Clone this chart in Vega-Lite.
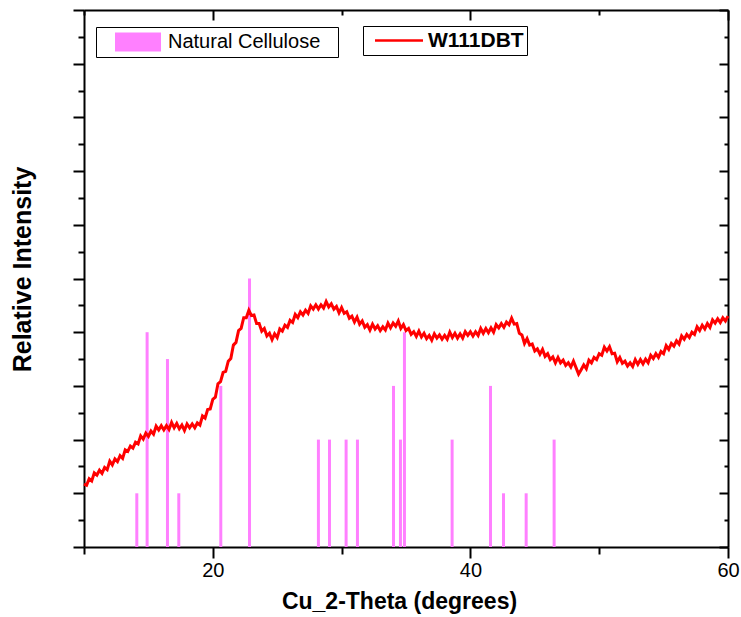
{
  "$schema": "https://vega.github.io/schema/vega-lite/v6.json",
  "width": 644,
  "height": 537,
  "autosize": "none",
  "padding": {"left": 84, "top": 10, "right": 13, "bottom": 70},
  "background": "white",
  "config": {
    "view": {"stroke": null},
    "font": "Liberation Sans",
    "axis": {"domainColor": "black", "domainWidth": 2, "tickColor": "black", "tickWidth": 2, "labelColor": "black", "titleColor": "black", "grid": false, "labelFont": "Liberation Sans", "titleFont": "Liberation Sans"}
  },
  "datasets": {
    "sticks": [
      {"theta": 14.1, "intensity": 1},
      {"theta": 14.9, "intensity": 4},
      {"theta": 16.48, "intensity": 3.5},
      {"theta": 17.36, "intensity": 1},
      {"theta": 20.62, "intensity": 3},
      {"theta": 22.85, "intensity": 5},
      {"theta": 28.2, "intensity": 2},
      {"theta": 29.06, "intensity": 2},
      {"theta": 30.35, "intensity": 2},
      {"theta": 31.23, "intensity": 2},
      {"theta": 34.03, "intensity": 3},
      {"theta": 34.57, "intensity": 2},
      {"theta": 34.88, "intensity": 4},
      {"theta": 38.58, "intensity": 2},
      {"theta": 41.56, "intensity": 3},
      {"theta": 42.57, "intensity": 1},
      {"theta": 44.33, "intensity": 1},
      {"theta": 46.5, "intensity": 2}
    ],
    "pattern": [
      {"theta": 10.0, "intensity": 1.17}, {"theta": 10.2, "intensity": 1.15}, {"theta": 10.4, "intensity": 1.27}, {"theta": 10.6, "intensity": 1.23}, {"theta": 10.8, "intensity": 1.38},
      {"theta": 11.0, "intensity": 1.34}, {"theta": 11.2, "intensity": 1.43}, {"theta": 11.4, "intensity": 1.37}, {"theta": 11.6, "intensity": 1.48}, {"theta": 11.8, "intensity": 1.44},
      {"theta": 12.0, "intensity": 1.6}, {"theta": 12.2, "intensity": 1.53}, {"theta": 12.4, "intensity": 1.64}, {"theta": 12.6, "intensity": 1.59}, {"theta": 12.8, "intensity": 1.7},
      {"theta": 13.0, "intensity": 1.65}, {"theta": 13.2, "intensity": 1.81}, {"theta": 13.4, "intensity": 1.78}, {"theta": 13.6, "intensity": 1.88}, {"theta": 13.8, "intensity": 1.84},
      {"theta": 14.0, "intensity": 1.95}, {"theta": 14.2, "intensity": 1.92}, {"theta": 14.4, "intensity": 2.07}, {"theta": 14.6, "intensity": 2.01}, {"theta": 14.8, "intensity": 2.12},
      {"theta": 15.0, "intensity": 2.06}, {"theta": 15.2, "intensity": 2.16}, {"theta": 15.4, "intensity": 2.1}, {"theta": 15.6, "intensity": 2.25}, {"theta": 15.8, "intensity": 2.18},
      {"theta": 16.0, "intensity": 2.26}, {"theta": 16.2, "intensity": 2.18}, {"theta": 16.4, "intensity": 2.26}, {"theta": 16.6, "intensity": 2.19}, {"theta": 16.8, "intensity": 2.32},
      {"theta": 17.0, "intensity": 2.22}, {"theta": 17.2, "intensity": 2.3}, {"theta": 17.4, "intensity": 2.2}, {"theta": 17.6, "intensity": 2.27}, {"theta": 17.8, "intensity": 2.17},
      {"theta": 18.0, "intensity": 2.29}, {"theta": 18.2, "intensity": 2.22}, {"theta": 18.4, "intensity": 2.29}, {"theta": 18.6, "intensity": 2.22}, {"theta": 18.8, "intensity": 2.31},
      {"theta": 19.0, "intensity": 2.27}, {"theta": 19.2, "intensity": 2.44}, {"theta": 19.4, "intensity": 2.4}, {"theta": 19.6, "intensity": 2.56}, {"theta": 19.8, "intensity": 2.57},
      {"theta": 20.0, "intensity": 2.75}, {"theta": 20.2, "intensity": 2.79}, {"theta": 20.4, "intensity": 3.04}, {"theta": 20.6, "intensity": 3.08}, {"theta": 20.8, "intensity": 3.25},
      {"theta": 21.0, "intensity": 3.27}, {"theta": 21.2, "intensity": 3.46}, {"theta": 21.4, "intensity": 3.51}, {"theta": 21.6, "intensity": 3.76}, {"theta": 21.8, "intensity": 3.81},
      {"theta": 22.0, "intensity": 4.03}, {"theta": 22.2, "intensity": 4.07}, {"theta": 22.4, "intensity": 4.27}, {"theta": 22.6, "intensity": 4.27}, {"theta": 22.8, "intensity": 4.41},
      {"theta": 23.0, "intensity": 4.31}, {"theta": 23.2, "intensity": 4.32}, {"theta": 23.4, "intensity": 4.16}, {"theta": 23.6, "intensity": 4.16}, {"theta": 23.8, "intensity": 4.02},
      {"theta": 24.0, "intensity": 4.07}, {"theta": 24.2, "intensity": 3.93}, {"theta": 24.4, "intensity": 3.98}, {"theta": 24.6, "intensity": 3.86}, {"theta": 24.8, "intensity": 3.97},
      {"theta": 25.0, "intensity": 3.9}, {"theta": 25.2, "intensity": 4.06}, {"theta": 25.4, "intensity": 4.02}, {"theta": 25.6, "intensity": 4.13}, {"theta": 25.8, "intensity": 4.09},
      {"theta": 26.0, "intensity": 4.22}, {"theta": 26.2, "intensity": 4.18}, {"theta": 26.4, "intensity": 4.33}, {"theta": 26.6, "intensity": 4.27}, {"theta": 26.8, "intensity": 4.38},
      {"theta": 27.0, "intensity": 4.32}, {"theta": 27.2, "intensity": 4.41}, {"theta": 27.4, "intensity": 4.35}, {"theta": 27.6, "intensity": 4.49}, {"theta": 27.8, "intensity": 4.43},
      {"theta": 28.0, "intensity": 4.51}, {"theta": 28.2, "intensity": 4.43}, {"theta": 28.4, "intensity": 4.51}, {"theta": 28.6, "intensity": 4.45}, {"theta": 28.8, "intensity": 4.57},
      {"theta": 29.0, "intensity": 4.47}, {"theta": 29.2, "intensity": 4.53}, {"theta": 29.4, "intensity": 4.43}, {"theta": 29.6, "intensity": 4.48}, {"theta": 29.8, "intensity": 4.36},
      {"theta": 30.0, "intensity": 4.46}, {"theta": 30.2, "intensity": 4.35}, {"theta": 30.4, "intensity": 4.38}, {"theta": 30.6, "intensity": 4.26}, {"theta": 30.8, "intensity": 4.3},
      {"theta": 31.0, "intensity": 4.19}, {"theta": 31.2, "intensity": 4.28}, {"theta": 31.4, "intensity": 4.15}, {"theta": 31.6, "intensity": 4.21}, {"theta": 31.8, "intensity": 4.09},
      {"theta": 32.0, "intensity": 4.14}, {"theta": 32.2, "intensity": 4.04}, {"theta": 32.4, "intensity": 4.15}, {"theta": 32.6, "intensity": 4.06}, {"theta": 32.8, "intensity": 4.12},
      {"theta": 33.0, "intensity": 4.03}, {"theta": 33.2, "intensity": 4.1}, {"theta": 33.4, "intensity": 4.04}, {"theta": 33.6, "intensity": 4.17}, {"theta": 33.8, "intensity": 4.08},
      {"theta": 34.0, "intensity": 4.17}, {"theta": 34.2, "intensity": 4.11}, {"theta": 34.4, "intensity": 4.21}, {"theta": 34.6, "intensity": 4.07}, {"theta": 34.8, "intensity": 4.14},
      {"theta": 35.0, "intensity": 4.03}, {"theta": 35.2, "intensity": 4.07}, {"theta": 35.4, "intensity": 3.96}, {"theta": 35.6, "intensity": 4.01}, {"theta": 35.8, "intensity": 3.92},
      {"theta": 36.0, "intensity": 4.02}, {"theta": 36.2, "intensity": 3.91}, {"theta": 36.4, "intensity": 3.98}, {"theta": 36.6, "intensity": 3.88}, {"theta": 36.8, "intensity": 3.94},
      {"theta": 37.0, "intensity": 3.85}, {"theta": 37.2, "intensity": 3.97}, {"theta": 37.4, "intensity": 3.89}, {"theta": 37.6, "intensity": 3.95}, {"theta": 37.8, "intensity": 3.87},
      {"theta": 38.0, "intensity": 3.94}, {"theta": 38.2, "intensity": 3.87}, {"theta": 38.4, "intensity": 4.0}, {"theta": 38.6, "intensity": 3.9}, {"theta": 38.8, "intensity": 3.98},
      {"theta": 39.0, "intensity": 3.89}, {"theta": 39.2, "intensity": 3.97}, {"theta": 39.4, "intensity": 3.89}, {"theta": 39.6, "intensity": 4.01}, {"theta": 39.8, "intensity": 3.94},
      {"theta": 40.0, "intensity": 4.01}, {"theta": 40.2, "intensity": 3.93}, {"theta": 40.4, "intensity": 4.01}, {"theta": 40.6, "intensity": 3.94}, {"theta": 40.8, "intensity": 4.07},
      {"theta": 41.0, "intensity": 3.98}, {"theta": 41.2, "intensity": 4.07}, {"theta": 41.4, "intensity": 3.99}, {"theta": 41.6, "intensity": 4.08}, {"theta": 41.8, "intensity": 4.0},
      {"theta": 42.0, "intensity": 4.14}, {"theta": 42.2, "intensity": 4.08}, {"theta": 42.4, "intensity": 4.16}, {"theta": 42.6, "intensity": 4.09}, {"theta": 42.8, "intensity": 4.19},
      {"theta": 43.0, "intensity": 4.14}, {"theta": 43.2, "intensity": 4.26}, {"theta": 43.4, "intensity": 4.15}, {"theta": 43.6, "intensity": 4.16}, {"theta": 43.8, "intensity": 3.98},
      {"theta": 44.0, "intensity": 3.95}, {"theta": 44.2, "intensity": 3.79}, {"theta": 44.4, "intensity": 3.88}, {"theta": 44.6, "intensity": 3.76}, {"theta": 44.8, "intensity": 3.78},
      {"theta": 45.0, "intensity": 3.65}, {"theta": 45.2, "intensity": 3.69}, {"theta": 45.4, "intensity": 3.59}, {"theta": 45.6, "intensity": 3.68}, {"theta": 45.8, "intensity": 3.55},
      {"theta": 46.0, "intensity": 3.6}, {"theta": 46.2, "intensity": 3.49}, {"theta": 46.4, "intensity": 3.54}, {"theta": 46.6, "intensity": 3.43}, {"theta": 46.8, "intensity": 3.53},
      {"theta": 47.0, "intensity": 3.43}, {"theta": 47.2, "intensity": 3.48}, {"theta": 47.4, "intensity": 3.38}, {"theta": 47.6, "intensity": 3.43}, {"theta": 47.8, "intensity": 3.35},
      {"theta": 48.0, "intensity": 3.46}, {"theta": 48.2, "intensity": 3.34}, {"theta": 48.4, "intensity": 3.22}, {"theta": 48.6, "intensity": 3.3}, {"theta": 48.8, "intensity": 3.39},
      {"theta": 49.0, "intensity": 3.32}, {"theta": 49.2, "intensity": 3.48}, {"theta": 49.4, "intensity": 3.43}, {"theta": 49.6, "intensity": 3.53}, {"theta": 49.8, "intensity": 3.49},
      {"theta": 50.0, "intensity": 3.6}, {"theta": 50.2, "intensity": 3.57}, {"theta": 50.4, "intensity": 3.72}, {"theta": 50.6, "intensity": 3.65}, {"theta": 50.8, "intensity": 3.73},
      {"theta": 51.0, "intensity": 3.6}, {"theta": 51.2, "intensity": 3.61}, {"theta": 51.4, "intensity": 3.45}, {"theta": 51.6, "intensity": 3.53}, {"theta": 51.8, "intensity": 3.42},
      {"theta": 52.0, "intensity": 3.46}, {"theta": 52.2, "intensity": 3.37}, {"theta": 52.4, "intensity": 3.43}, {"theta": 52.6, "intensity": 3.36}, {"theta": 52.8, "intensity": 3.49},
      {"theta": 53.0, "intensity": 3.4}, {"theta": 53.2, "intensity": 3.49}, {"theta": 53.4, "intensity": 3.41}, {"theta": 53.6, "intensity": 3.5}, {"theta": 53.8, "intensity": 3.43},
      {"theta": 54.0, "intensity": 3.57}, {"theta": 54.2, "intensity": 3.51}, {"theta": 54.4, "intensity": 3.6}, {"theta": 54.6, "intensity": 3.53}, {"theta": 54.8, "intensity": 3.64},
      {"theta": 55.0, "intensity": 3.6}, {"theta": 55.2, "intensity": 3.75}, {"theta": 55.4, "intensity": 3.68}, {"theta": 55.6, "intensity": 3.79}, {"theta": 55.8, "intensity": 3.74},
      {"theta": 56.0, "intensity": 3.84}, {"theta": 56.2, "intensity": 3.78}, {"theta": 56.4, "intensity": 3.93}, {"theta": 56.6, "intensity": 3.87}, {"theta": 56.8, "intensity": 3.96},
      {"theta": 57.0, "intensity": 3.9}, {"theta": 57.2, "intensity": 4.0}, {"theta": 57.4, "intensity": 3.96}, {"theta": 57.6, "intensity": 4.1}, {"theta": 57.8, "intensity": 4.03},
      {"theta": 58.0, "intensity": 4.13}, {"theta": 58.2, "intensity": 4.06}, {"theta": 58.4, "intensity": 4.16}, {"theta": 58.6, "intensity": 4.09}, {"theta": 58.8, "intensity": 4.23},
      {"theta": 59.0, "intensity": 4.17}, {"theta": 59.2, "intensity": 4.25}, {"theta": 59.4, "intensity": 4.18}, {"theta": 59.6, "intensity": 4.27}, {"theta": 59.8, "intensity": 4.21},
      {"theta": 60.0, "intensity": 4.3}
    ]
  },
  "layer": [
    {
      "data": {"name": "sticks"},
      "mark": {"type": "bar", "size": 3, "orient": "vertical"},
      "encoding": {
        "x": {
          "field": "theta", "type": "quantitative",
          "scale": {"domain": [10, 60], "nice": false, "padding": 0},
          "axis": {
            "orient": "bottom", "values": [10, 20, 30, 40, 50, 60],
            "tickSize": {"condition": {"test": "datum.value % 20 === 0", "value": 11}, "value": 7},
            "labelExpr": "datum.value % 20 === 0 ? datum.label : ''",
            "labelFontSize": 20, "labelBaseline": "alphabetic", "labelPadding": 18, "labelFlush": false, "labelOverlap": false,
            "title": "Cu_2-Theta (degrees)", "titleFontSize": 23, "titleFontWeight": "bold",
            "titleX": 315, "titleY": 61, "titleBaseline": "alphabetic", "titleAlign": "center"
          }
        },
        "y": {
          "field": "intensity", "type": "quantitative",
          "scale": {"domain": [0, 10], "nice": false},
          "axis": {
            "orient": "left", "values": [0, 0.5, 1, 1.5, 2, 2.5, 3, 3.5, 4, 4.5, 5, 5.5, 6, 6.5, 7, 7.5, 8, 8.5, 9, 9.5, 10],
            "tickSize": {"condition": {"test": "datum.value % 1 === 0", "value": 11}, "value": 6},
            "labels": false,
            "title": "Relative Intensity", "titleFontSize": 25, "titleFontWeight": "bold",
            "titleX": -54, "titleY": 259, "titleAngle": 270, "titleBaseline": "alphabetic", "titleAlign": "center"
          }
        },
        "color": {
          "datum": "Natural Cellulose", "type": "nominal",
          "scale": {"domain": ["Natural Cellulose"], "range": ["#FF80FF"]},
          "legend": {
            "title": ".", "titleOrient": "right", "titleOpacity": 0, "titleFontSize": 10, "titlePadding": 10,
            "orient": "none", "legendX": 12, "legendY": 17,
            "strokeColor": "black", "fillColor": "white", "padding": 5,
            "symbolType": "M-2.3,-0.95H2.3V0.95H-2.3Z", "symbolSize": 400, "symbolStrokeWidth": 0,
            "symbolOffset": 27, "labelOffset": 20, "labelFontSize": 20, "labelColor": "black"
          }
        }
      }
    },
    {
      "data": {"name": "pattern"},
      "mark": {"type": "line", "strokeWidth": 3},
      "encoding": {
        "x": {
          "field": "theta", "type": "quantitative",
          "scale": {"domain": [10, 60], "nice": false, "padding": 0},
          "axis": {
            "orient": "top", "values": [10, 20, 30, 40, 50, 60],
            "tickSize": {"condition": {"test": "datum.value % 20 === 0", "value": -10}, "value": -5},
            "labels": false, "title": null
          }
        },
        "y": {
          "field": "intensity", "type": "quantitative",
          "scale": {"domain": [0, 10], "nice": false},
          "axis": {
            "orient": "right", "values": [0, 0.5, 1, 1.5, 2, 2.5, 3, 3.5, 4, 4.5, 5, 5.5, 6, 6.5, 7, 7.5, 8, 8.5, 9, 9.5, 10],
            "tickSize": {"condition": {"test": "datum.value % 1 === 0", "value": -9}, "value": -4},
            "labels": false, "title": null
          }
        },
        "color": {
          "datum": "W111DBT", "type": "nominal",
          "scale": {"domain": ["W111DBT"], "range": ["#FF0000"]},
          "legend": {
            "title": null, "orient": "none", "legendX": 279, "legendY": 16,
            "strokeColor": "black", "fillColor": "white", "padding": 3,
            "symbolType": "M-1.2,0L1.2,0", "symbolSize": 1600, "symbolStrokeWidth": 2.5,
            "symbolOffset": 11.5, "labelOffset": 7.5, "labelFontSize": 21, "labelFontWeight": "bold", "labelColor": "black",
            "clipHeight": 23
          }
        }
      }
    }
  ],
  "resolve": {"scale": {"color": "independent"}, "axis": {"x": "independent", "y": "independent"}}
}
